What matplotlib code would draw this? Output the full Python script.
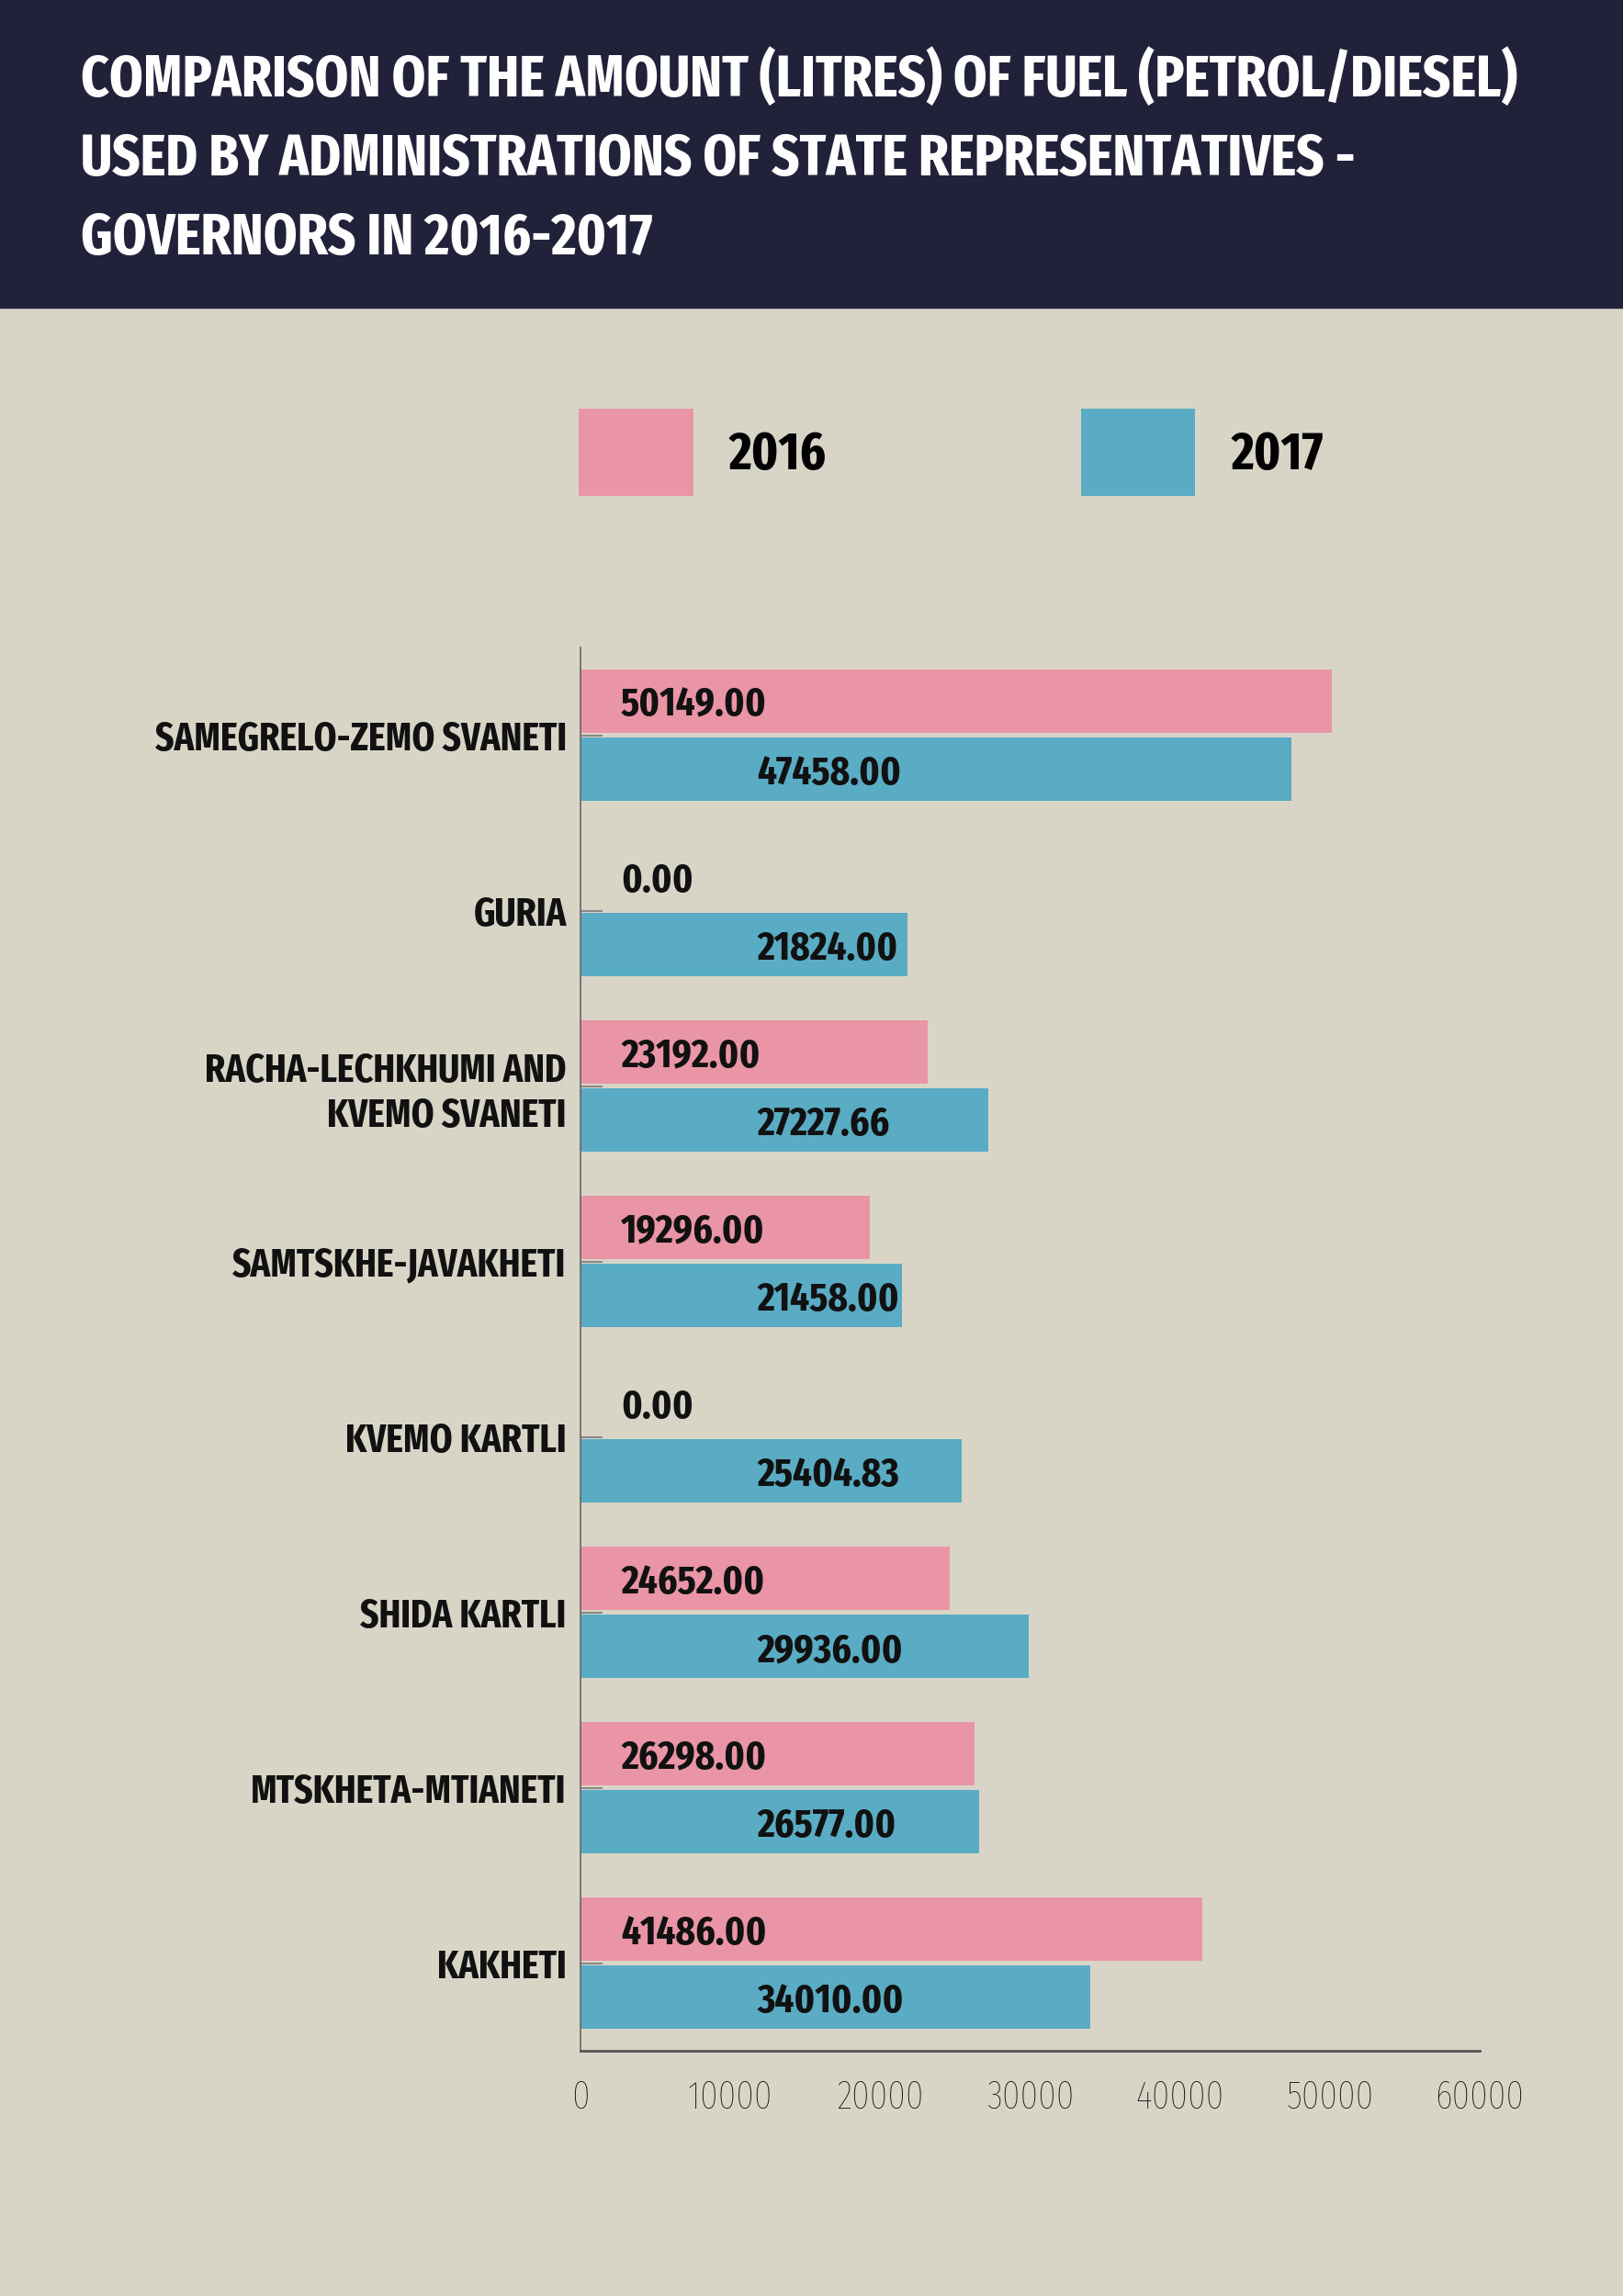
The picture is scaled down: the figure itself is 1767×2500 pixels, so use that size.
import matplotlib.pyplot as plt
import matplotlib.patches as mpatches
import numpy as np

regions = ['SAMEGRELO-ZEMO SVANETI', 'GURIA', 'RACHA-LECHKHUMI AND\nKVEMO SVANETI',
           'SAMTSKHE-JAVAKHETI', 'KVEMO KARTLI', 'SHIDA KARTLI',
           'MTSKHETA-MTIANETI', 'KAKHETI']
fuel_2016 = [50149.00, 0.00, 23192.00, 19296.00, 0.00, 24652.00, 26298.00, 41486.00]
fuel_2017 = [47458.00, 21824.00, 27227.66, 21458.00, 25404.83, 29936.00, 26577.00, 34010.00]
years = ['2016', '2017']
xticks = [0, 10000, 20000, 30000, 40000, 50000, 60000]

title_lines = ['COMPARISON OF THE AMOUNT (LITRES) OF FUEL (PETROL/DIESEL)',
               'USED BY ADMINISTRATIONS OF STATE REPRESENTATIVES -',
               'GOVERNORS IN 2016-2017']

bg = '#d8d5c7'
navy = '#21223a'
pink = '#e995a6'
blue = '#5aacc4'

head_font = ['Fira Sans Extra Condensed', 'DejaVu Sans']
plt.rcParams['font.family'] = head_font

fig = plt.figure(figsize=(17.67, 25), dpi=100, facecolor=bg)

# header band
fig.add_artist(mpatches.Rectangle((0, 1 - 335 / 2500), 1, 335 / 2500,
                                  transform=fig.transFigure, color=navy, zorder=0))
for i, line in enumerate(title_lines):
    fig.text(88 / 1767, 1 - (105 + 86 * i) / 2500, line, color='white', fontsize=46,
             fontweight='bold', va='baseline', ha='left')

ax = fig.add_axes([632 / 1767, 1 - 2233 / 2500, (1611 - 632) / 1767, (2233 - 705) / 2500])
ax.set_facecolor(bg)

y = np.arange(len(regions))
h = 0.36
off = 0.195
b1 = ax.barh(y - off, fuel_2016, height=h, color=pink, label=years[0])
b2 = ax.barh(y + off, fuel_2017, height=h, color=blue, label=years[1])

for yi, v in zip(y, fuel_2016):
    ax.text(2700, yi - off, f'{v:.2f}', va='center_baseline', ha='left', fontsize=32,
            fontweight='bold', color='#111111')
for yi, v in zip(y, fuel_2017):
    ax.text(11800, yi + off, f'{v:.2f}', va='center_baseline', ha='left', fontsize=32,
            fontweight='bold', color='#111111')

ax.set_xlim(0, 60000)
ax.set_ylim(len(regions) - 0.5, -0.5)
ax.set_xticks(xticks)
ax.set_xticklabels([str(t) for t in xticks], fontsize=31, color='#111111', fontweight='light')
ax.tick_params(axis='x', length=0, pad=22)
ax.set_yticks(y)
ax.set_yticklabels(regions, fontsize=31, fontweight='bold', color='#111111', linespacing=1.22)
ax.tick_params(axis='y', direction='in', length=17, width=1.5, color='#888888', pad=11)

for s in ['top', 'right']:
    ax.spines[s].set_visible(False)
ax.spines['left'].set_color('#666666')
ax.spines['left'].set_linewidth(1.2)
ax.spines['bottom'].set_color('#555555')
ax.spines['bottom'].set_linewidth(2)

leg = fig.legend(handles=[b1, b2], labels=years, loc='upper left',
                 bbox_to_anchor=(630 / 1767, 1 - 445 / 2500), ncol=2, frameon=False,
                 prop={'family': head_font, 'size': 42, 'weight': 'bold'},
                 handlelength=2.14, handleheight=2.12, handletextpad=0.67,
                 columnspacing=4.74, borderpad=0, borderaxespad=0)

fig.savefig('out.png', dpi=100, facecolor=bg)
